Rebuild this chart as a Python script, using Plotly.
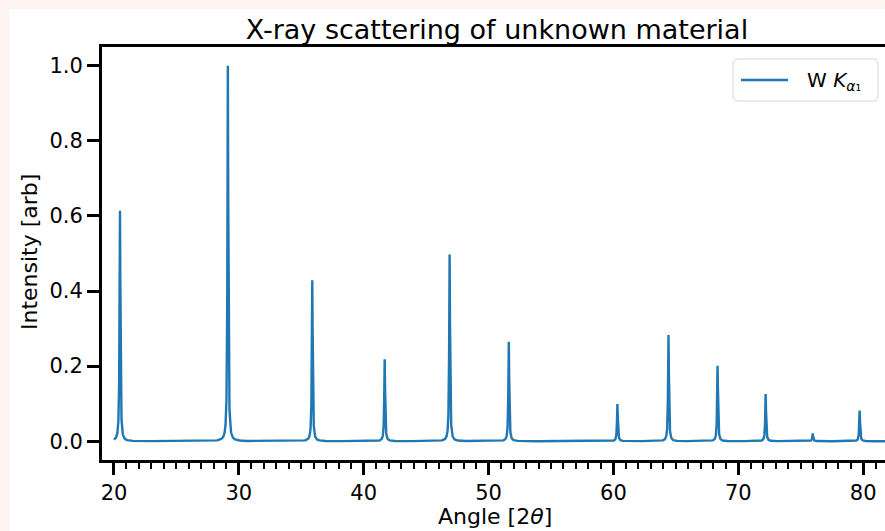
import numpy as np
import plotly.graph_objects as go

# Peak parameters (angle in 2θ, normalized intensity)
peak_angles = [20.48, 29.12, 35.88, 41.68, 46.88, 51.62, 60.32, 64.41, 68.34, 72.19, 75.96, 79.72]
peak_heights = [0.614, 1.0, 0.429, 0.218, 0.497, 0.265, 0.099, 0.283, 0.201, 0.126, 0.021, 0.082]
peak_hwhm = 0.04  # Lorentzian half width
angle_start, angle_stop, angle_step = 20.0, 85.0, 0.005

x_ticks = [20, 30, 40, 50, 60, 70, 80]
y_ticks = [0.0, 0.2, 0.4, 0.6, 0.8, 1.0]
y_tick_labels = ["0.0", "0.2", "0.4", "0.6", "0.8", "1.0"]
series_name = "W <i>K</i><sub><i>α</i>₁</sub>"

angles = np.arange(angle_start, angle_stop + angle_step / 2, angle_step)
intensity = np.zeros_like(angles)
for c, h in zip(peak_angles, peak_heights):
    intensity += h * peak_hwhm**2 / ((angles - c) ** 2 + peak_hwhm**2)
intensity = intensity / intensity.max()

W, H = 885, 531
L, R, T, B = 102, 885, 47, 460
pw, ph = R - L, B - T
color = "#1f77b4"

def px(xp):
    return (xp - L) / pw

def py(yp):
    return (B - yp) / ph

def rounded_rect(x0, y0, x1, y1, r):
    # pixel coords -> paper path
    pts = []
    X0, X1 = px(x0), px(x1)
    Y0, Y1 = py(y0), py(y1)  # Y0 top, Y1 bottom
    rx, ry = r / pw, r / ph
    return (f"M {X0+rx},{Y0} L {X1-rx},{Y0} Q {X1},{Y0} {X1},{Y0-ry} "
            f"L {X1},{Y1+ry} Q {X1},{Y1} {X1-rx},{Y1} L {X0+rx},{Y1} "
            f"Q {X0},{Y1} {X0},{Y1+ry} L {X0},{Y0-ry} Q {X0},{Y0} {X0+rx},{Y0} Z")

font = "DejaVu Sans"
fig = go.Figure()
fig.add_trace(go.Scatter(
    x=angles, y=intensity, mode="lines",
    line=dict(color=color, width=2.4),
    name=series_name, showlegend=False,
))

fig.update_layout(
    width=W, height=H,
    margin=dict(l=L, r=W - R, t=T, b=H - B, pad=0),
    paper_bgcolor="#fdf3f3",
    plot_bgcolor="white",
    font=dict(family=font, color="black"),
    title=dict(text="X-ray scattering of unknown material", font=dict(size=27, family=font, color="black"),
               xref="paper", x=px(497), xanchor="center",
               yref="container", y=1 - 30 / H, yanchor="middle"),
    shapes=[
        dict(type="rect", xref="paper", yref="paper", layer="below",
             x0=px(9), x1=1.02, y0=py(H + 5), y1=py(9),
             fillcolor="white", line=dict(width=0)),
        dict(type="path", xref="paper", yref="paper", layer="above",
             path=rounded_rect(733, 59, 878, 101, 5),
             fillcolor="rgba(255,255,255,0.8)", line=dict(color="#d6d6d6", width=1)),
        dict(type="line", xref="paper", yref="paper", layer="above",
             x0=px(741), x1=px(788), y0=py(80), y1=py(80),
             line=dict(color=color, width=2.4)),
    ],
    annotations=[
        dict(text=series_name, xref="paper", yref="paper", x=px(805), y=py(81),
             xanchor="left", yanchor="middle", showarrow=False,
             font=dict(size=20, family=font)),
        dict(text="Intensity [arb]", xref="paper", yref="paper", x=px(30), y=py(252),
             xanchor="center", yanchor="middle", textangle=-90, showarrow=False,
             font=dict(size=22, family=font)),
        dict(text="Angle [2<i>θ</i>]", xref="paper", yref="paper", x=px(495), y=py(516),
             xanchor="center", yanchor="middle", showarrow=False,
             font=dict(size=22, family=font)),
    ],
)

fig.update_xaxes(
    range=[19.04, 81.75], showgrid=False, zeroline=False,
    showline=True, linecolor="black", linewidth=3, mirror=True,
    ticks="outside", ticklen=12, tickwidth=3, tickcolor="black",
    tickvals=x_ticks, tickfont=dict(size=21, family=font),
    minor=dict(dtick=1, tick0=0, ticks="outside", ticklen=6, tickwidth=2, tickcolor="black"),
)
fig.update_yaxes(
    range=[-0.05, 1.05], showgrid=False, zeroline=False,
    showline=True, linecolor="black", linewidth=3,
    ticks="outside", ticklen=12, tickwidth=3, tickcolor="black",
    tickvals=y_ticks, ticktext=y_tick_labels, tickfont=dict(size=21, family=font),
)

fig.write_html("out.html", config={"displayModeBar": False},
               post_script="document.body.style.margin='0';document.body.style.overflow='hidden';")
